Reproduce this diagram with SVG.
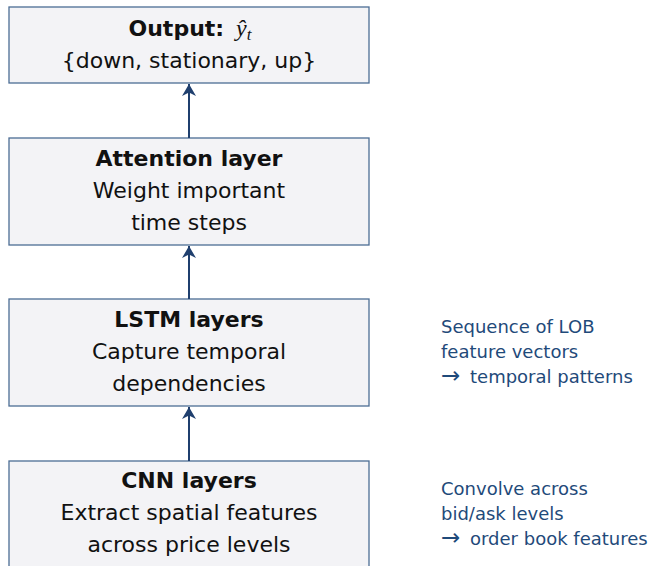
<svg xmlns="http://www.w3.org/2000/svg" width="655" height="566" viewBox="0 0 655 566">
<style>
.box{fill:#f3f3f6;stroke:#4c6d94;stroke-width:1.3}
.t{font-family:"DejaVu Sans","Liberation Sans",sans-serif;font-size:22px;fill:#111;text-anchor:middle}
.b{font-weight:bold}
.n{font-family:"DejaVu Sans","Liberation Sans",sans-serif;font-size:18px;fill:#1f4a7a}
.ar{font-size:23px}
.c{stroke:#1f3f6e;stroke-width:2;fill:none}
</style>
<defs>
<marker id="ah" viewBox="0 0 12 14" refX="12" refY="7" markerWidth="12" markerHeight="14" markerUnits="userSpaceOnUse" orient="auto">
<path d="M0,0 L12,7 L0,14 L3.5,7 Z" fill="#1f3f6e"/>
</marker>
</defs>
<rect width="655" height="566" fill="#fff"/>
<g id="output">
<rect class="box" x="9" y="7" width="360" height="76"/>
<text class="t" x="190" y="36"><tspan class="b">Output:</tspan><tspan dx="12" font-family="Liberation Serif,serif" font-style="italic" font-size="24">ŷ</tspan><tspan font-family="Liberation Serif,serif" font-style="italic" font-size="17" dy="4">t</tspan></text>
<text class="t" x="189" y="68">{down, stationary, up}</text>
</g>
<g id="attention">
<rect class="box" x="9" y="138" width="360" height="107"/>
<text class="t b" x="189" y="166">Attention layer</text>
<text class="t" x="189" y="198">Weight important</text>
<text class="t" x="189" y="230">time steps</text>
</g>
<g id="lstm">
<rect class="box" x="9" y="299" width="360" height="107"/>
<text class="t b" x="189" y="327">LSTM layers</text>
<text class="t" x="189" y="359">Capture temporal</text>
<text class="t" x="189" y="391">dependencies</text>
</g>
<g id="cnn">
<rect class="box" x="9" y="461" width="360" height="120"/>
<text class="t b" x="189" y="488">CNN layers</text>
<text class="t" x="189" y="520">Extract spatial features</text>
<text class="t" x="189" y="552">across price levels</text>
</g>
<g id="notes">
<text class="n" x="441" y="333">Sequence of LOB</text>
<text class="n" x="441" y="358">feature vectors</text>
<text class="n" x="441" y="383"><tspan class="ar">→</tspan><tspan x="470">temporal patterns</tspan></text>
<text class="n" x="441" y="495">Convolve across</text>
<text class="n" x="441" y="520">bid/ask levels</text>
<text class="n" x="441" y="545"><tspan class="ar">→</tspan><tspan x="470">order book features</tspan></text>
</g>
<g id="connectors">
<line class="c" x1="189" y1="138" x2="189" y2="84" marker-end="url(#ah)"/>
<line class="c" x1="189" y1="299" x2="189" y2="246" marker-end="url(#ah)"/>
<line class="c" x1="189" y1="461" x2="189" y2="407" marker-end="url(#ah)"/>
</g>
</svg>
